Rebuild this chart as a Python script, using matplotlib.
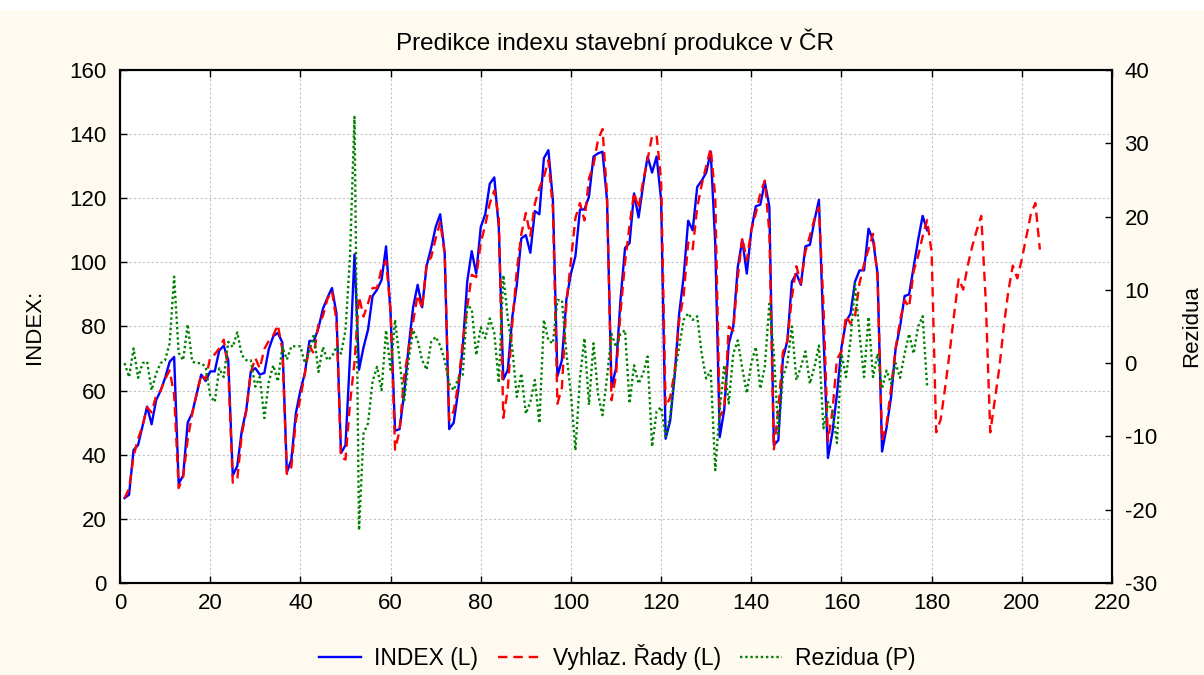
import numpy as np
import matplotlib
matplotlib.use("Agg")
import matplotlib.pyplot as plt
from matplotlib.patches import Rectangle

# monthly construction index (L axis), months 1..179
INDEX = [26.5, 27.5, 41.5, 43, 49, 55, 49.5, 57, 60, 64, 69, 70.5,
         31, 33.5, 50, 53, 59, 65, 63, 66, 66, 72.5, 74, 69.5,
         33.5, 36.5, 47.5, 54, 66, 67, 65, 65.5, 73, 77, 78, 75,
         34.5, 38.5, 53, 60, 65.5, 75.5, 75.5, 79.5, 85.5, 89, 92, 84,
         40.5, 43, 70.5, 102.5, 66.5, 73.5, 79, 89.5, 91.5, 94.5, 105, 84,
         47.5, 48, 59, 73.5, 86, 93, 86, 99, 104.5, 111, 115, 103,
         48, 50, 60, 73.5, 94, 103.5, 96.5, 111, 115, 124.5, 126.5, 111,
         63.5, 66.5, 83, 93, 107.5, 108.5, 103, 116, 115, 132.5, 135, 119.5,
         64.5, 69.5, 88.5, 96.5, 102, 116.5, 116.5, 120.5, 133, 134, 134.5, 119.5,
         61, 67, 88.5, 104.5, 106, 121.5, 114, 124, 133, 128, 133, 119.5,
         45, 50.5, 64.5, 84, 95.5, 113, 110, 123.5, 125.5, 128, 134.5, 106,
         45.5, 54, 74.5, 80, 98.5, 107, 96.5, 110, 117.5, 118, 125, 117.5,
         43, 44.5, 70, 75.5, 94, 96.5, 93, 105, 105.5, 113, 119.5, 78,
         39, 47, 59, 73.5, 81.5, 84, 94, 97.5, 97.5, 110.5, 107, 96.5,
         41, 48.5, 58, 73, 80, 89.5, 90, 98.5, 107, 114.5, 110]

# smoothed series + forecast (L axis), months 1..204
SMOOTH = [26.5, 29.4, 39.5, 45, 49, 54.8, 53.2, 58.4, 60, 63.6, 66.3, 58.7,
          29.6, 33.1, 44.7, 52.8, 59, 65, 63.5, 70.4, 71.3, 73.2, 75.9, 66.6,
          31.3, 32.3, 46.4, 53.6, 65.6, 70.2, 66.9, 73, 75.5, 77.3, 80.5, 72.8,
          34, 36.2, 50.7, 57.7, 65.5, 73.9, 71.5, 80.7, 83.3, 88.6, 91.1, 81.8,
          39.2, 38.5, 56, 68.9, 89.3, 83.1, 87.2, 92, 92, 98.2, 100.5, 84.9,
          41.6, 47.6, 64.3, 73.1, 81.5, 89.9, 85.6, 99.9, 101.6, 107.4, 112.6, 102.6,
          50.8, 53.7, 62.1, 75.1, 86.1, 96.1, 95.4, 106.1, 111.6, 118.4, 122.4, 113.7,
          51.5, 60.4, 81, 97.6, 108.9, 115.4, 108.3, 118.3, 123.2, 126.6, 131.9, 116.8,
          55.9, 60.9, 87.2, 100.7, 113.9, 118.5, 113.1, 126.2, 130.3, 138.2, 141.6, 121.4,
          57, 64.8, 84.5, 100, 111.5, 121.8, 116.8, 125.4, 132.1, 139.4, 139.6, 125.5,
          55, 57.8, 65.9, 81.8, 89.6, 106.2, 104.1, 117.1, 124.2, 130.1, 135.5, 120.6,
          51.9, 54.3, 80, 78.7, 95.4, 107.7, 100.6, 110, 115.3, 121.5, 125.5, 109.4,
          41.7, 54.1, 71.9, 75.5, 89, 98.8, 93.5, 103.4, 108.3, 113.5, 117.1, 86.9,
          44.3, 53.6, 69.9, 72.2, 83.4, 80.9, 83.2, 93.5, 99.4, 104.2, 108.9, 95.2,
          44.5, 49.5, 60.8, 73, 82, 88.2, 86, 97.2, 102, 108.1, 113.2, 103,
          47, 51, 61, 72, 84, 95, 91.5, 99, 105, 110, 114.5, 88,
          47, 57, 67, 80, 91, 99, 95, 101, 108, 115, 118.5, 104]

# residuals (P axis), months 1..179
RESID = [0, -1.9, 2, -2, 0, 0.2, -3.7, -1.4, 0, 0.4, 2.7, 11.8,
         1.4, 0.4, 5.3, 0.2, 0, 0, -0.5, -4.4, -5.3, -0.7, -1.9, 2.9,
         2.2, 4.2, 1.1, 0.4, 0.4, -3.2, -1.9, -7.5, -2.5, -0.3, -2.5, 2.2,
         0.5, 2.3, 2.3, 2.3, 0, 1.6, 4.0, -1.2, 2.2, 0.4, 0.9, 2.2,
         1.3, 4.5, 14.5, 33.6, -22.8, -9.6, -8.2, -2.5, -0.5, -3.7, 4.5, -0.9,
         5.9, 0.4, -5.3, 0.4, 4.5, 3.1, 0.4, -0.9, 2.9, 3.6, 2.4, 0.4,
         -2.8, -3.7, -2.1, -1.6, 7.9, 7.4, 1.1, 4.9, 3.4, 6.1, 4.1, -2.7,
         12.0, 6.1, 2.0, -4.6, -1.4, -6.9, -5.3, -2.3, -8.2, 5.9, 3.1, 2.7,
         8.6, 8.6, 1.3, -4.2, -11.9, -2, 3.4, -5.7, 2.7, -4.2, -7.1, -1.9,
         4.0, 2.2, 4.0, 4.5, -5.5, -0.3, -2.8, -1.4, 0.9, -11.4, -6.6, -6,
         -10, -7.3, -1.4, 2.2, 5.9, 6.8, 5.9, 6.4, 1.3, -2.1, -1, -14.6,
         -6.4, -0.3, -5.5, 1.3, 3.1, -0.7, -4.1, 0, 2.2, -3.5, -0.5, 8.1,
         1.3, -9.6, -1.9, 0, 5, -2.3, -0.5, 1.6, -2.8, -0.5, 2.4, -8.9,
         -5.3, -6.6, -10.9, 1.3, -1.9, 3.1, 10.8, 4, -1.9, 6.3, -1.9, 1.3,
         -3.5, -1, -2.8, 0, -2, 1.3, 4, 1.3, 5, 6.4, -3.2]

TITLE = "Predikce indexu stavební produkce v ČR"
LABELS = ["INDEX (L)", "Vyhlaz. Řady (L)", "Rezidua (P)"]

plt.rcParams['font.family'] = ['Liberation Sans', 'DejaVu Sans']
plt.rcParams['axes.unicode_minus'] = False

fig = plt.figure(figsize=(12.04, 6.75), dpi=100, facecolor='#FFFAF0')
fig.patches.append(Rectangle((0, 1 - 10 / 675), 1, 10 / 675, transform=fig.transFigure,
                             facecolor='white', edgecolor='none', zorder=0))
ax = fig.add_axes([0.0997, 0.1363, 0.8239, 0.760])
ax2 = ax.twinx()

l1, = ax.plot(np.arange(1, len(INDEX) + 1), INDEX, color='#0000FF', lw=1.7,
              label=LABELS[0], zorder=3)
l2, = ax.plot(np.arange(1, len(SMOOTH) + 1), SMOOTH, color='#FF0000', lw=1.7,
              dashes=(4, 2.5), label=LABELS[1], zorder=4)
l3, = ax2.plot(np.arange(1, len(RESID) + 1), RESID, color='#008000', lw=1.7,
               dashes=(1, 1.2), label=LABELS[2])

ax.set_xlim(0, 220)
ax.set_ylim(0, 160)
ax.set_xticks(range(0, 221, 20))
ax.set_yticks(range(0, 161, 20))
ax2.set_ylim(-30, 40)
ax2.set_yticks(range(-30, 41, 10))

ax.grid(True, color='#C4C4C4', linestyle=(0, (2, 2)), linewidth=0.8)
ax.set_axisbelow(True)

ax.tick_params(direction='in', length=5, width=1, labelsize=16, top=True, right=False)
ax.tick_params(axis='y', pad=10)
ax.tick_params(axis='x', pad=7)
ax2.tick_params(direction='in', length=5, width=1, labelsize=16, pad=9)
for a in (ax, ax2):
    for s in a.spines.values():
        s.set_linewidth(1.5)

ax.set_ylabel("INDEX:", fontsize=16)
ax.yaxis.set_label_coords(-0.0755, 0.5)
ax2.set_ylabel("Rezidua", fontsize=16)
ax2.yaxis.set_label_coords(1.0695, 0.5)

fig.text(0.511, 1 - 42 / 675, TITLE, ha='center', va='center', fontsize=17.5)

fig.legend([l1, l2, l3], LABELS, loc='center', bbox_to_anchor=(0.513, 0.0267),
           ncol=3, frameon=False, fontsize=16.5, handlelength=1.8,
           handletextpad=0.6, columnspacing=0.85)

fig.savefig("out.png", dpi=100, facecolor=fig.get_facecolor())
